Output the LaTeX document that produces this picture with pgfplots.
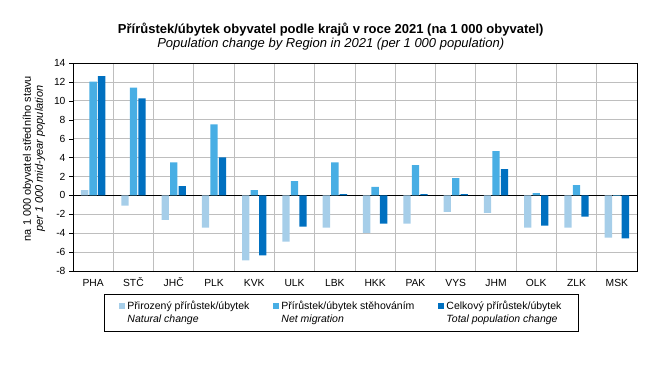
\documentclass[border=0pt]{standalone}
\usepackage{pgfplots}
\pgfplotsset{compat=1.18}
\usepackage{fontspec}
\setmainfont{Liberation Sans}
\definecolor{cNat}{RGB}{166,206,233}
\definecolor{cMig}{RGB}{72,174,228}
\definecolor{cTot}{RGB}{0,112,192}
\definecolor{cGrid}{RGB}{190,190,190}
\begin{document}
\begin{tikzpicture}[x=1pt,y=1pt]
\path[use as bounding box] (0,0) rectangle (670,-367);
\begin{axis}[
  at={(73pt,-271pt)}, anchor=south west,
  scale only axis, width=564pt, height=208pt,
  xmin=-0.5, xmax=13.5, ymin=-8, ymax=14,
  ytick={-8,-6,...,14},
  xtick={0,...,13},
  xticklabels={PHA,STČ,JHČ,PLK,KVK,ULK,LBK,HKK,PAK,VYS,JHM,OLK,ZLK,MSK},
  minor xtick={0.5,1.5,...,12.5},
  xminorgrids, ymajorgrids,
  grid style={cGrid, line width=0.8pt},
  minor grid style={cGrid, line width=0.8pt},
  extra y ticks={0}, extra y tick labels={},
  extra y tick style={grid style={black, line width=0.8pt}, major tick length=0pt},
  x tick style={draw=none},
  y tick style={black},
  tick align=outside, ytick pos=left, major tick length=4pt,
  axis line style={black, line width=0.8pt},
  ticklabel style={font=\fontsize{10.3}{12}\selectfont},
  xticklabel style={text height=9pt, text depth=0pt, yshift=1pt},
  /pgf/number format/assume math mode=true,
  /pgf/number format/1000 sep={},
  ybar=1.2pt, bar width=7.3pt,
  ylabel={na 1 000 obyvatel středního stavu\\\textit{per 1 000 mid-year population}},
  ylabel style={align=center, font=\fontsize{11}{12}\selectfont, at={(axis description cs:-0.069,0.54)}, anchor=center},
  title={\textbf{Přírůstek/úbytek obyvatel podle krajů v roce 2021 (na 1 000 obyvatel)}\\\textit{Population change by Region in 2021 (per 1 000 population)}},
  title style={align=center, font=\fontsize{13}{14.5}\selectfont, at={(axis description cs:0.457,1)}, anchor=south, yshift=3pt},
  legend columns=3,
  legend style={at={(axis description cs:0.476,-0.11)}, anchor=north, draw=black, line width=0.8pt,
    font=\fontsize{10.5}{13}\selectfont, inner xsep=15pt, inner ysep=5pt,
    cells={align=left, anchor=west},
    /tikz/every even column/.append style={column sep=22pt}},
  legend image code/.code={\fill[#1, draw=none] (0pt,3.5pt) rectangle (6pt,9.5pt);},
]
\addplot[fill=cNat, draw=none] coordinates {(0,0.56) (1,-1.09) (2,-2.6) (3,-3.4) (4,-6.88) (5,-4.9) (6,-3.4) (7,-3.96) (8,-2.98) (9,-1.75) (10,-1.86) (11,-3.4) (12,-3.4) (13,-4.46)};
\addplot[fill=cMig, draw=none] coordinates {(0,12.03) (1,11.4) (2,3.5) (3,7.5) (4,0.56) (5,1.5) (6,3.5) (7,0.9) (8,3.19) (9,1.82) (10,4.67) (11,0.25) (12,1.09) (13,-0.05)};
\addplot[fill=cTot, draw=none] coordinates {(0,12.6) (1,10.25) (2,0.98) (3,4.03) (4,-6.35) (5,-3.3) (6,0.14) (7,-2.98) (8,0.14) (9,0.14) (10,2.77) (11,-3.19) (12,-2.25) (13,-4.56)};
\legend{Přirozený přírůstek/úbytek\\\textit{Natural change},Přírůstek/úbytek stěhováním\\\textit{Net migration},Celkový přírůstek/úbytek\\\textit{Total population change}}
\end{axis}
\end{tikzpicture}
\end{document}
